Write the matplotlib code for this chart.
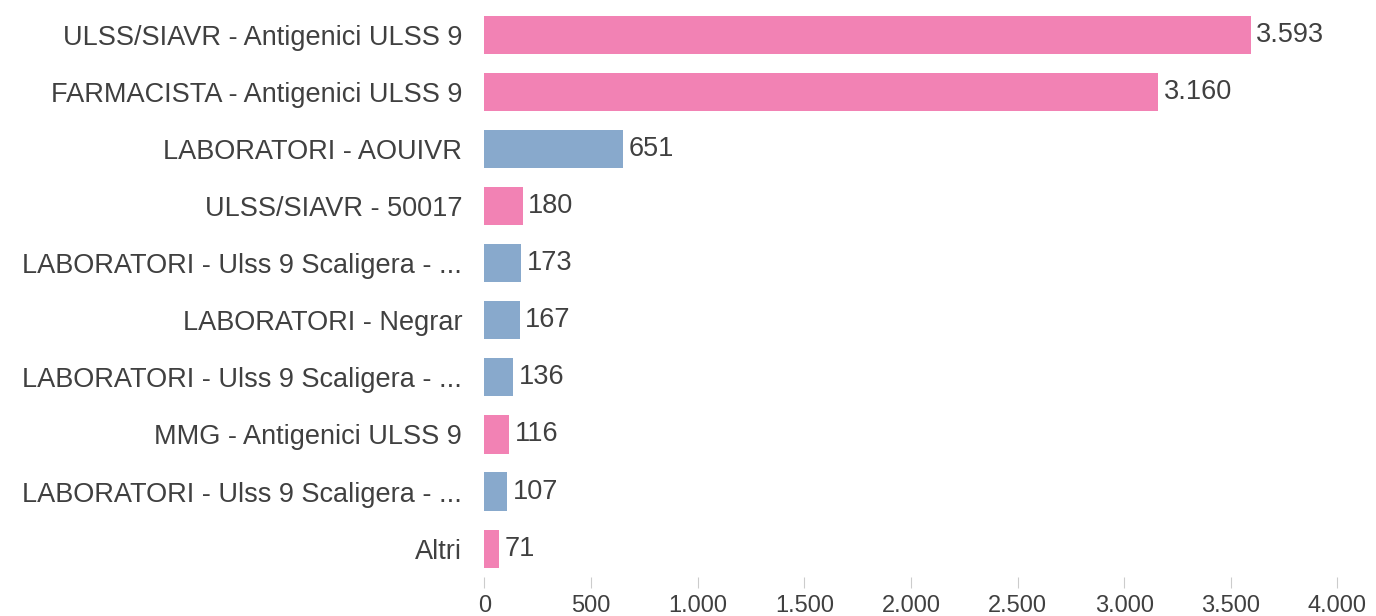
import matplotlib
matplotlib.use("Agg")
import matplotlib.pyplot as plt

labels = [
    "ULSS/SIAVR - Antigenici ULSS 9",
    "FARMACISTA - Antigenici ULSS 9",
    "LABORATORI - AOUIVR",
    "ULSS/SIAVR - 50017",
    "LABORATORI - Ulss 9 Scaligera - ...",
    "LABORATORI - Negrar",
    "LABORATORI - Ulss 9 Scaligera - ...",
    "MMG - Antigenici ULSS 9",
    "LABORATORI - Ulss 9 Scaligera - ...",
    "Altri",
]
values = [3593, 3160, 651, 180, 173, 167, 136, 116, 107, 71]
groups = ["pink", "pink", "blue", "pink", "blue", "blue", "blue", "pink", "blue", "pink"]
xticks = [0, 500, 1000, 1500, 2000, 2500, 3000, 3500, 4000]

palette = {"pink": "#F282B4", "blue": "#88A9CC"}
text_color = "#404040"


def fmt(v):
    return f"{v:,}".replace(",", ".")


plt.rcParams["font.family"] = ["Liberation Sans", "DejaVu Sans"]

fig = plt.figure(figsize=(13.76, 6.16), dpi=100)
ax = fig.add_axes([0.352, 0.063, 0.62, 0.927])

y = list(range(len(labels)))
ax.barh(y, values, height=0.67, color=[palette[g] for g in groups])

for yi, v in zip(y, values):
    ax.text(v + 25, yi, fmt(v), va="center", ha="left", fontsize=19.5, color=text_color)

ax.set_yticks(y)
ax.set_yticklabels(labels, fontsize=19.5, color=text_color)
ax.set_ylim(len(labels) - 0.5, -0.5)

ax.set_xlim(0, 4000)
ax.set_xticks(xticks)
ax.set_xticklabels([fmt(t) for t in xticks], fontsize=17, color=text_color)

for s in ax.spines.values():
    s.set_visible(False)
ax.tick_params(axis="y", length=0, pad=16)
ax.tick_params(axis="x", length=8, color="#cccccc", pad=5)

fig.savefig("out.png", dpi=100)
